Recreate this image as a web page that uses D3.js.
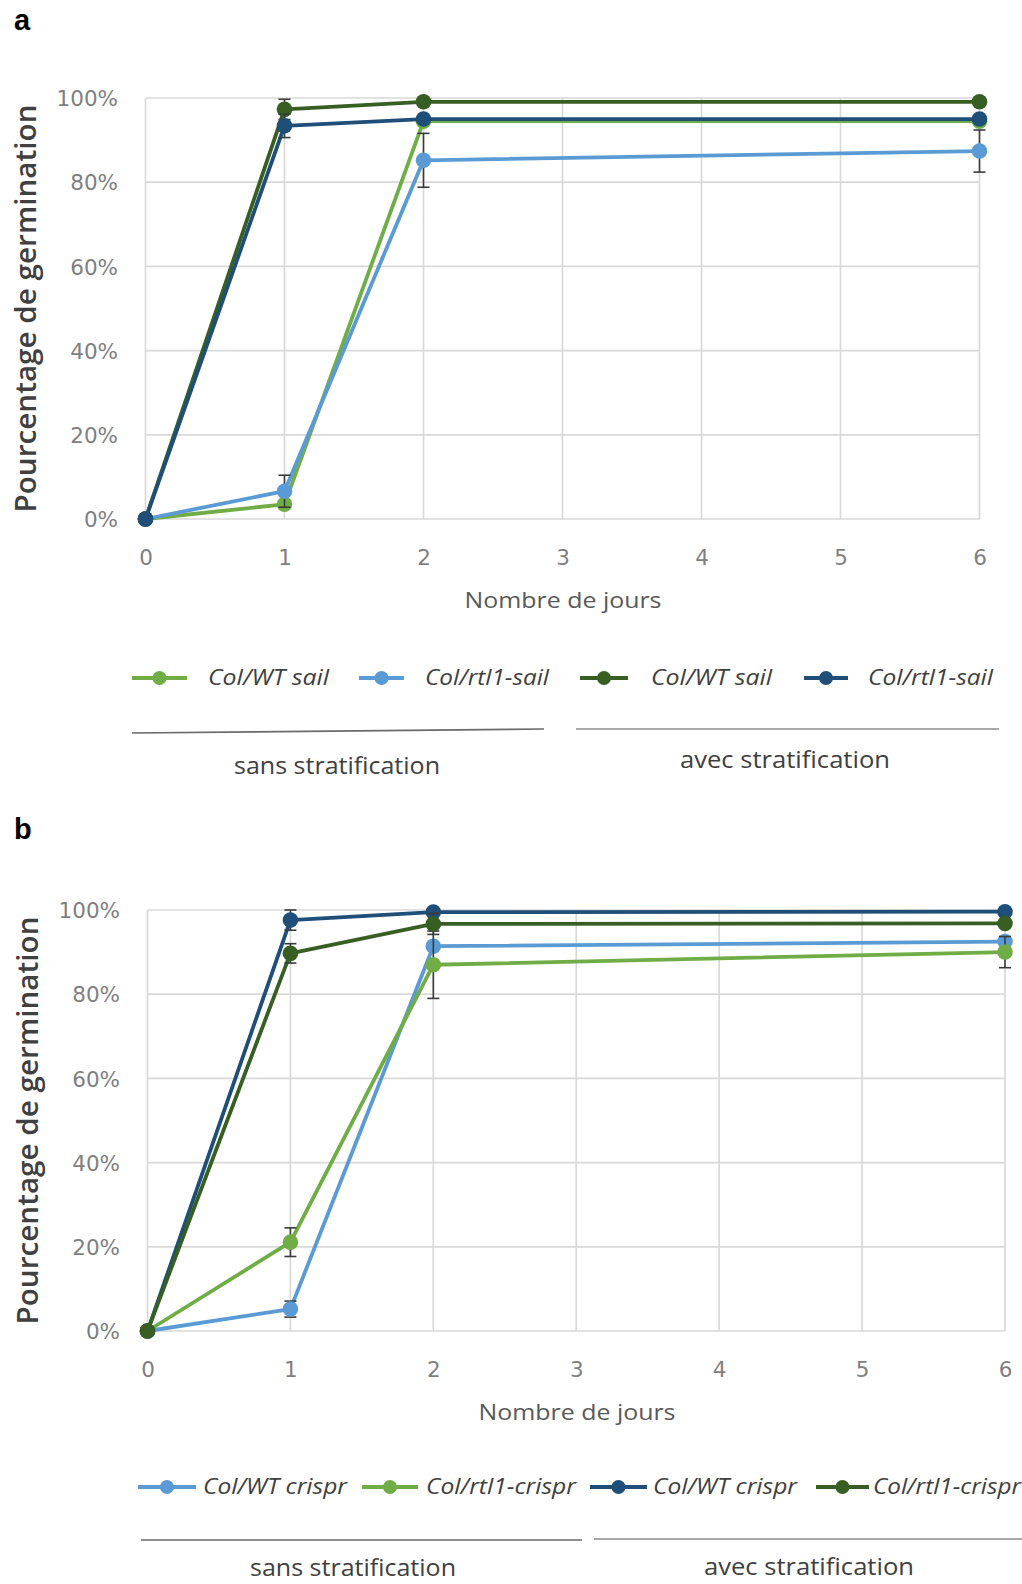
<!DOCTYPE html>
<html><head><meta charset="utf-8">
<script src="https://cdn.jsdelivr.net/npm/d3@7"></script>
<style>body{margin:0;background:#fff}svg{display:block}</style>
</head><body>
<svg id="c" width="1022" height="1584"></svg>
<script>
// ---------- data ----------
const days = [0, 1, 2, 6];
const xTicks = [0, 1, 2, 3, 4, 5, 6];
const yTicks = [0, 20, 40, 60, 80, 100];

// Panel a (legend order = drawing order)
const aNames = ["Col/WT sail", "Col/rtl1-sail", "Col/WT sail", "Col/rtl1-sail"];
const aWTsans   = [0, 3.5, 94.5, 94.5];
const aRtlSans  = [0, 6.6, 85.2, 87.4];
const aWTavec   = [0, 97.3, 99.1, 99.1];
const aRtlAvec  = [0, 93.4, 95.0, 95.0];
const aErrWTsans  = [0, 0, 0, 0];
const aErrRtlSans = [0, 3.8, 6.4, 5.0];
const aErrWTavec  = [0, 2.4, 0, 0];
const aErrRtlAvec = [0, 2.8, 0, 0];

// Panel b
const bNames = ["Col/WT crispr", "Col/rtl1-crispr", "Col/WT crispr", "Col/rtl1-crispr"];
const bWTsans   = [0, 5.2, 91.4, 92.5];
const bRtlSans  = [0, 21.1, 87.0, 90.0];
const bWTavec   = [0, 97.6, 99.5, 99.6];
const bRtlAvec  = [0, 89.7, 96.7, 96.8];
const bErrWTsans  = [0, 1.9, 0, 0];
const bErrRtlSans = [0, 3.4, 8.0, 3.7];
const bErrWTavec  = [0, 2.4, 0, 0];
const bErrRtlAvec = [0, 2.3, 2.5, 0];

const groupLabels = ["sans stratification", "avec stratification"];
const C = {lg: "#70AD47", lb: "#5B9BD5", dg: "#375F23", db: "#1F4E79"};

const svg = d3.select("#c");

function panel(o) {
  const g = svg.append("g");
  const x = d3.scaleLinear().domain([0, 6]).range([o.x0, o.x1]);
  const y = d3.scaleLinear().domain([0, 100]).range([o.y1, o.y0]);

  // panel letter
  g.append("text").attr("x", 14).attr("y", o.letterY).text(o.letter)
    .attr("font-family", "Liberation Sans, Arial").attr("font-weight", "bold")
    .attr("font-size", 29).attr("fill", "#000");

  // gridlines
  g.append("g").selectAll("line").data(yTicks).join("line")
    .attr("x1", o.x0).attr("x2", o.x1).attr("y1", d => y(d)).attr("y2", d => y(d))
    .attr("stroke", "#d9d9d9").attr("stroke-width", 1.7);
  g.append("g").selectAll("line").data(xTicks).join("line")
    .attr("x1", d => x(d)).attr("x2", d => x(d)).attr("y1", o.y0).attr("y2", o.y1)
    .attr("stroke", "#d9d9d9").attr("stroke-width", 1.7);

  // axes via d3
  const ya = d3.axisLeft(y).tickValues(yTicks).tickFormat(d => d + "%").tickSize(0).tickPadding(0);
  const yg = g.append("g").attr("transform", `translate(${o.yLabX},0)`).call(ya);
  yg.select(".domain").remove();
  yg.selectAll("text").attr("font-family", "DejaVu Sans").attr("font-size", 21.5)
    .attr("fill", "#7f7f7f").attr("dy", "0.36em").attr("x", 0);

  const xa = d3.axisBottom(x).tickValues(xTicks).tickFormat(d3.format("d")).tickSize(0).tickPadding(0);
  const xg = g.append("g").attr("transform", `translate(0,${o.xLabY})`).call(xa);
  xg.select(".domain").remove();
  xg.selectAll("text").attr("font-family", "DejaVu Sans").attr("font-size", 21.5)
    .attr("fill", "#7f7f7f").attr("dy", "0.36em").attr("y", 0);

  // axis titles
  g.append("text").attr("x", o.xTitleX).attr("y", o.xTitleY).attr("text-anchor", "middle")
    .attr("font-family", "Open Sans").attr("font-size", 22).attr("fill", "#595959")
    .attr("textLength", 197).attr("lengthAdjust", "spacingAndGlyphs").text("Nombre de jours");
  g.append("text").attr("transform", `translate(${o.yTitleX},${(o.y0 + o.y1) / 2}) rotate(-90)`)
    .attr("text-anchor", "middle").attr("font-family", "Open Sans").attr("font-weight", 600)
    .attr("font-size", 29).attr("fill", "#404040").attr("dy", "0.35em")
    .attr("textLength", 408).attr("lengthAdjust", "spacingAndGlyphs").text("Pourcentage de germination");

  // series
  const line = d3.line().x(d => x(d.d)).y(d => y(d.v));
  o.series.forEach(s => {
    const pts = days.map((d, i) => ({d, v: s.vals[i], e: s.err[i]}));
    const sg = g.append("g");
    sg.append("path").datum(pts).attr("d", line).attr("fill", "none")
      .attr("stroke", s.color).attr("stroke-width", 3.8).attr("stroke-linejoin", "round");
    const eb = sg.append("g").selectAll("g").data(pts.filter(p => p.e > 0)).join("g");
    eb.append("line").attr("x1", p => x(p.d)).attr("x2", p => x(p.d))
      .attr("y1", p => y(p.v - p.e)).attr("y2", p => y(p.v + p.e)).attr("stroke", "#3a3a3a").attr("stroke-width", 1.6);
    [-1, 1].forEach(sgn => eb.append("line").attr("x1", p => x(p.d) - 6).attr("x2", p => x(p.d) + 6)
      .attr("y1", p => y(p.v + sgn * p.e)).attr("y2", p => y(p.v + sgn * p.e))
      .attr("stroke", "#3a3a3a").attr("stroke-width", 1.6));
    sg.append("g").selectAll("circle").data(pts).join("circle")
      .attr("cx", p => x(p.d)).attr("cy", p => y(p.v)).attr("r", 7.8).attr("fill", s.color);
  });

  // legend
  const lg = g.append("g");
  o.series.forEach((s, i) => {
    const L = o.legend[i];
    lg.append("line").attr("x1", L[0]).attr("x2", L[1]).attr("y1", o.legY).attr("y2", o.legY)
      .attr("stroke", s.color).attr("stroke-width", 3.8);
    lg.append("circle").attr("cx", (L[0] + L[1]) / 2).attr("cy", o.legY).attr("r", 7).attr("fill", s.color);
    lg.append("text").attr("x", L[2]).attr("y", o.legY).attr("dy", "0.35em")
      .attr("font-family", "Open Sans").attr("font-style", "italic").attr("font-size", 21)
      .attr("fill", "#404040").attr("textLength", L[3]).attr("lengthAdjust", "spacingAndGlyphs").text(s.name);
  });

  // group lines and labels
  o.groups.forEach((gr, i) => {
    lg.append("line").attr("x1", gr[0]).attr("x2", gr[1]).attr("y1", gr[2]).attr("y2", gr[3])
      .attr("stroke", i === 0 ? "#6a6a6a" : "#8c8c8c").attr("stroke-width", 1.7);
    lg.append("text").attr("x", gr[4]).attr("y", gr[5]).attr("text-anchor", "middle")
      .attr("font-family", "Open Sans").attr("font-size", 23).attr("fill", "#404040")
      .attr("textLength", gr[6]).attr("lengthAdjust", "spacingAndGlyphs").text(groupLabels[i]);
  });
}

panel({
  letter: "a", letterY: 30,
  x0: 145.5, x1: 979.5, y0: 98, y1: 519,
  yLabX: 118, xLabY: 557, xTitleX: 563, xTitleY: 608, yTitleX: 26,
  series: [
    {name: aNames[0], color: C.lg, vals: aWTsans, err: aErrWTsans},
    {name: aNames[1], color: C.lb, vals: aRtlSans, err: aErrRtlSans},
    {name: aNames[2], color: C.dg, vals: aWTavec, err: aErrWTavec},
    {name: aNames[3], color: C.db, vals: aRtlAvec, err: aErrRtlAvec}
  ],
  legY: 678,
  legend: [[132, 187, 208, 121], [359, 404, 425, 124], [580, 628, 651, 121], [804, 848, 868, 125]],
  groups: [[132, 544, 733, 729, 337, 774, 206], [576, 999, 729, 729, 785, 768, 210]]
});

panel({
  letter: "b", letterY: 839,
  x0: 147.5, x1: 1005, y0: 910, y1: 1331,
  yLabX: 120, xLabY: 1369, xTitleX: 577, xTitleY: 1420, yTitleX: 28,
  series: [
    {name: bNames[0], color: C.lb, vals: bWTsans, err: bErrWTsans},
    {name: bNames[1], color: C.lg, vals: bRtlSans, err: bErrRtlSans},
    {name: bNames[2], color: C.db, vals: bWTavec, err: bErrWTavec},
    {name: bNames[3], color: C.dg, vals: bRtlAvec, err: bErrRtlAvec}
  ],
  legY: 1487,
  legend: [[138, 196, 203, 144], [362, 418, 426, 150], [590, 647, 653, 144], [816, 869, 873, 148]],
  groups: [[141, 582, 1540, 1540, 353, 1576, 206], [594, 1022, 1539, 1539, 809, 1575, 210]]
});
</script>
</body></html>
